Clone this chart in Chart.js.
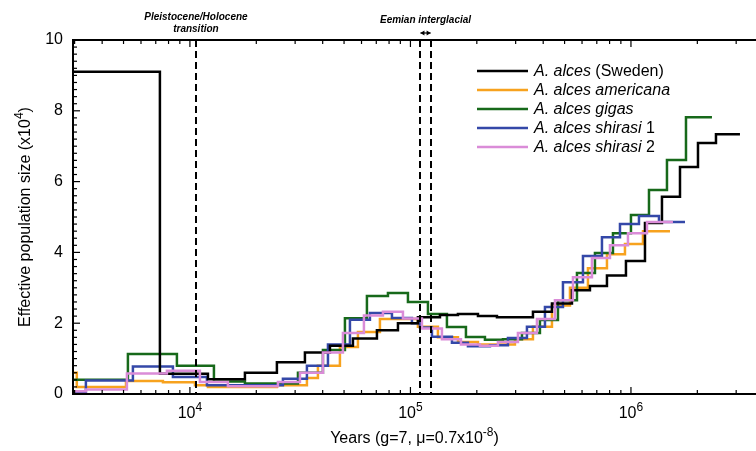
<!DOCTYPE html>
<html>
<head>
<meta charset="utf-8">
<script src="https://cdn.jsdelivr.net/npm/chart.js@4.4.0/dist/chart.umd.min.js"></script>
<style>
    html, body { margin: 0; padding: 0; background: #ffffff; }
    canvas { display: block; }
</style>
</head>
<body>
<canvas id="psmc-chart" width="756" height="451"></canvas>
<script>
// years (breakpoints) and Ne (x10^4) for each sample
const swedenYears = [2950, 7310, 12070, 17760, 24800, 33230, 43150, 54860, 70480, 87780, 108100, 136100, 164200, 202400, 246800, 297800, 359400, 438300, 540100, 651700, 778300, 949100, 1157600, 1382300, 1668600, 2013500, 2429500, 3121000];
const swedenNe = [9.1, 0.57, 0.42, 0.6, 0.9, 1.17, 1.36, 1.57, 1.8, 2.0, 2.17, 2.23, 2.26, 2.2, 2.17, 2.17, 2.32, 2.56, 2.93, 3.05, 3.35, 3.76, 4.83, 5.57, 6.41, 7.09, 7.34];

const americanaYears = [2950, 3070, 5130, 7545, 10540, 12070, 24800, 33930, 38060, 47890, 57800, 72720, 108140, 133240, 164220, 202360, 246800, 297780, 359380, 438290, 528960, 638260, 778340, 939300, 1133700, 1502900];
const americanaNe = [0.6, 0.2, 0.37, 0.33, 0.25, 0.2, 0.25, 0.45, 0.8, 1.33, 1.75, 2.12, 1.9, 1.6, 1.47, 1.4, 1.4, 1.55, 1.9, 2.5, 3.0, 3.55, 3.95, 4.24, 4.6];

const gigasYears = [2950, 5234, 8730, 12850, 17760, 30900, 40100, 50460, 63490, 79070, 97430, 120070, 146380, 178530, 217710, 262730, 320400, 386600, 466610, 569040, 686610, 828660, 1000000, 1207100, 1456500, 1776400, 2329700];
const gigasNe = [0.4, 1.13, 0.8, 0.35, 0.3, 0.6, 1.24, 2.14, 2.77, 2.85, 2.6, 2.26, 1.89, 1.61, 1.53, 1.55, 1.72, 2.09, 2.65, 3.42, 3.98, 4.54, 5.06, 5.76, 6.61, 7.82];

const shirasi1Years = [2950, 3375, 5514, 8375, 11944, 26412, 33928, 42265, 53170, 65509, 82440, 101580, 110430, 125180, 154250, 182310, 229350, 276800, 337530, 407380, 491600, 605830, 738740, 891670, 1087300, 1339700, 1757900];
const shirasi1Ne = [0.06, 0.38, 0.78, 0.48, 0.25, 0.43, 0.8, 1.4, 2.1, 2.29, 2.15, 2.0, 1.88, 1.62, 1.45, 1.35, 1.38, 1.58, 1.9, 2.46, 3.16, 3.9, 4.43, 4.8, 5.03, 4.86];

const shirasi2Years = [2950, 3375, 5180, 7864, 11100, 14868, 25063, 31548, 40104, 49418, 61532, 75035, 92470, 112760, 138940, 169440, 206640, 249370, 307250, 374700, 452220, 545780, 665440, 803100, 969160, 1182100, 1550700];
const shirasi2Ne = [0.08, 0.13, 0.58, 0.66, 0.34, 0.22, 0.34, 0.6, 1.17, 1.72, 2.22, 2.32, 2.13, 1.85, 1.55, 1.4, 1.36, 1.47, 1.72, 2.12, 2.65, 3.3, 3.84, 4.2, 4.54, 4.86];

const xTickValues = [1e4, 1e5, 1e6];
const xTickLabels = [['10', '4'], ['10', '5'], ['10', '6']];
const eventYears = [10650, 111000, 123500];

const seriesLabels = [
    [['A. alces', true], [' (Sweden)', false]],
    [['A. alces americana', true]],
    [['A. alces gigas', true]],
    [['A. alces shirasi', true], [' 1', false]],
    [['A. alces shirasi', true], [' 2', false]]
];
const seriesColors = ['#000000', '#f7a21e', '#17691a', '#3448a8', '#da8cd8'];

const FONT = "'Liberation Sans', Arial, Helvetica, sans-serif";

function steps(years, ne) {
    const pts = ne.map((v, i) => ({ x: years[i], y: v }));
    pts.push({ x: years[years.length - 1], y: ne[ne.length - 1] });
    return pts;
}

// text with superscript pieces, centred on x, baseline at y
function drawRich(ctx, parts, x, y, size) {
    const supSize = Math.round(size * 0.72);
    const widths = parts.map(([t, sup]) => {
        ctx.font = (sup ? supSize : size) + 'px ' + FONT;
        return ctx.measureText(t).width;
    });
    let cx = x - widths.reduce((s, w) => s + w, 0) / 2;
    ctx.textAlign = 'left';
    ctx.textBaseline = 'alphabetic';
    parts.forEach(([t, sup], i) => {
        ctx.font = (sup ? supSize : size) + 'px ' + FONT;
        ctx.fillText(t, cx, sup ? y - size * 0.45 : y);
        cx += widths[i];
    });
}

const allSeries = [
    steps(swedenYears, swedenNe),
    steps(americanaYears, americanaNe),
    steps(gigasYears, gigasNe),
    steps(shirasi1Years, shirasi1Ne),
    steps(shirasi2Years, shirasi2Ne)
];
const drawOrder = [1, 4, 3, 2, 0];

const axisFrame = {
    id: 'axisFrame',
    afterDraw(chart) {
        const { ctx, chartArea: a, scales: { x, y } } = chart;
        const seg = (x1, y1, x2, y2) => {
            ctx.beginPath();
            ctx.moveTo(x1, y1);
            ctx.lineTo(x2, y2);
            ctx.stroke();
        };
        ctx.save();
        ctx.strokeStyle = '#000';
        ctx.fillStyle = '#000';

        // event lines
        ctx.lineWidth = 2;
        ctx.setLineDash([7, 4]);
        eventYears.forEach(v => {
            const px = Math.round(x.getPixelForValue(v));
            seg(px, a.top, px, a.bottom);
        });
        ctx.setLineDash([]);

        // frame
        ctx.lineWidth = 2;
        ctx.beginPath();
        ctx.moveTo(a.right, a.top);
        ctx.lineTo(a.left, a.top);
        ctx.lineTo(a.left, a.bottom);
        ctx.lineTo(a.right, a.bottom);
        ctx.stroke();

        // inward ticks
        ctx.lineWidth = 1.2;
        for (let k = 3; k <= 6; k++) {
            for (let m = 1; m <= 9; m++) {
                const v = m * Math.pow(10, k);
                if (v < x.min || v > x.max) continue;
                const px = x.getPixelForValue(v);
                const len = m === 1 ? 7 : 4;
                seg(px, a.bottom, px, a.bottom - len);
                seg(px, a.top, px, a.top + len);
            }
        }
        for (let i = 0; i <= 50; i++) {
            const py = y.getPixelForValue(i * 0.2);
            seg(a.left, py, a.left + (i % 10 === 0 ? 7 : 4), py);
        }

        // x tick labels and axis titles
        xTickValues.forEach((v, i) => {
            drawRich(ctx, [[xTickLabels[i][0], false], [xTickLabels[i][1], true]], x.getPixelForValue(v), 418, 16);
        });
        drawRich(ctx, [['Years (g=7, μ=0.7x10', false], ['-8', true], [')', false]], (a.left + a.right) / 2, 443, 16);
        ctx.save();
        ctx.translate(30, (a.top + a.bottom) / 2);
        ctx.rotate(-Math.PI / 2);
        drawRich(ctx, [['Effective population size (x10', false], ['4', true], [')', false]], 0, 0, 16);
        ctx.restore();

        // event notes
        ctx.textAlign = 'center';
        ctx.textBaseline = 'middle';
        ctx.font = 'italic bold 10px ' + FONT;
        const p0 = x.getPixelForValue(eventYears[0]);
        ctx.fillText('Pleistocene/Holocene', p0, 17);
        ctx.fillText('transition', p0, 29);
        const p1 = x.getPixelForValue(eventYears[1]);
        const p2 = x.getPixelForValue(eventYears[2]);
        ctx.fillText('Eemian interglacial', (p1 + p2) / 2, 20);
        ctx.lineWidth = 1.2;
        seg(p1, 33, p2, 33);
        [[p1, 1], [p2, -1]].forEach(([px, d]) => {
            ctx.beginPath();
            ctx.moveTo(px, 33);
            ctx.lineTo(px + 4 * d, 30.5);
            ctx.lineTo(px + 4 * d, 35.5);
            ctx.closePath();
            ctx.fill();
        });

        // legend
        ctx.textAlign = 'left';
        seriesLabels.forEach((parts, i) => {
            const ly = 71 + i * 19;
            ctx.strokeStyle = seriesColors[i];
            ctx.lineWidth = 2.5;
            seg(477, ly, 528, ly);
            let tx = 534;
            parts.forEach(([text, italic]) => {
                ctx.font = (italic ? 'italic ' : '') + '16px ' + FONT;
                ctx.fillText(text, tx, ly + 1);
                tx += ctx.measureText(text).width;
            });
        });
        ctx.restore();
    }
};

new Chart(document.getElementById('psmc-chart'), {
    type: 'line',
    data: {
        datasets: allSeries.map((pts, i) => ({
            data: pts,
            borderColor: seriesColors[i],
            borderWidth: 2.5,
            stepped: true,
            pointRadius: 0,
            fill: false,
            order: drawOrder[i]
        }))
    },
    options: {
        responsive: false,
        animation: false,
        devicePixelRatio: 1,
        events: [],
        layout: { padding: { top: 40, right: 0, left: 0, bottom: 0 } },
        plugins: { legend: { display: false }, tooltip: { enabled: false } },
        scales: {
            x: {
                type: 'logarithmic',
                min: 2950,
                max: 3690000,
                afterBuildTicks: s => { s.ticks = xTickValues.map(v => ({ value: v })); },
                afterFit: s => { s.height = 57; },
                grid: { display: false, drawTicks: false },
                border: { display: false },
                ticks: { display: false }
            },
            y: {
                min: 0,
                max: 10,
                afterFit: s => { s.width = 73; },
                grid: { display: false, drawTicks: false },
                border: { display: false },
                ticks: {
                    stepSize: 2,
                    padding: 10,
                    color: '#000',
                    font: { family: FONT, size: 16 }
                }
            }
        }
    },
    plugins: [axisFrame]
});
</script>
</body>
</html>
